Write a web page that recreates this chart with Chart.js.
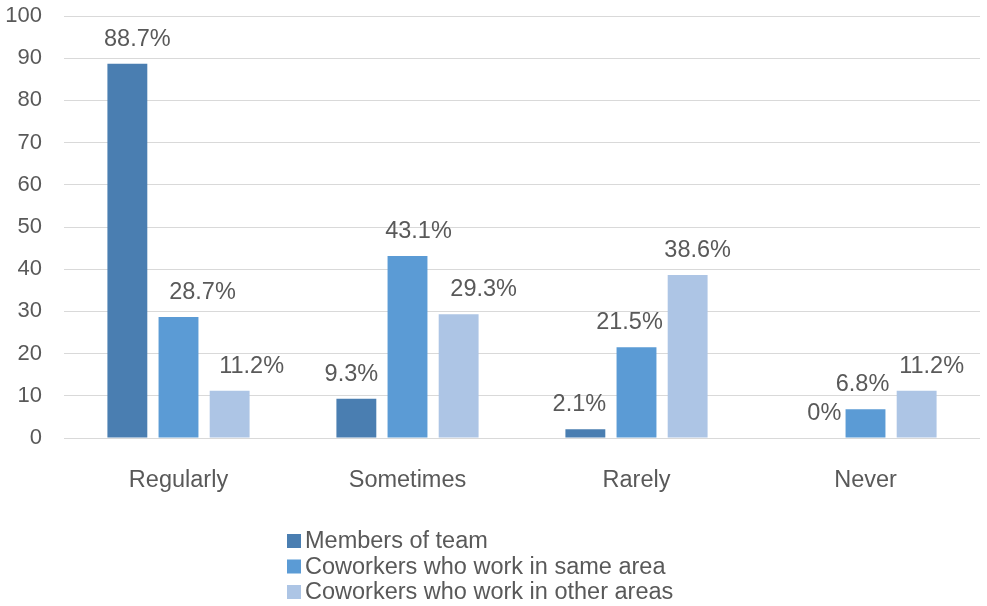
<!DOCTYPE html>
<html>
<head>
<meta charset="utf-8">
<script src="https://cdn.jsdelivr.net/npm/chart.js@4"></script>
<style>
  html, body { margin: 0; padding: 0; background: #fff; }
  #wrap { width: 987px; height: 606px; }
</style>
</head>
<body>
<div id="wrap"><canvas id="chart" width="987" height="606"></canvas></div>
<script>
// data
var categories = ['Regularly', 'Sometimes', 'Rarely', 'Never'];
var seriesNames = ['Members of team', 'Coworkers who work in same area', 'Coworkers who work in other areas'];
var membersOfTeam = [88.7, 9.3, 2.1, 0];
var sameArea = [28.7, 43.1, 21.5, 6.8];
var otherAreas = [11.2, 29.3, 38.6, 11.2];
var yTicks = [0, 10, 20, 30, 40, 50, 60, 70, 80, 90, 100];

var colors = ['#4A7EB1', '#5B9BD5', '#ADC5E5'];
var textColor = '#595959';
var fontFamily = '"Liberation Sans", Arial, sans-serif';

// the value labels in the original were nudged sideways by hand
var labelNudge = [
  [10, -5, -6, 10],
  [24, 11, -7, -3],
  [22, 25, 10, 15]
];

// labels above each bar
var valueLabels = {
  id: 'valueLabels',
  afterDatasetsDraw: function (chart) {
    var ctx = chart.ctx;
    ctx.save();
    ctx.font = '23.5px ' + fontFamily;
    ctx.fillStyle = textColor;
    ctx.textAlign = 'center';
    ctx.textBaseline = 'alphabetic';
    chart.data.datasets.forEach(function (ds, i) {
      chart.getDatasetMeta(i).data.forEach(function (bar, j) {
        ctx.fillText(ds.data[j] + '%', bar.x + labelNudge[i][j], bar.y - 18);
      });
    });
    ctx.restore();
  }
};

// vertical legend under the axis
var stackedLegend = {
  id: 'stackedLegend',
  afterDraw: function (chart) {
    var ctx = chart.ctx;
    ctx.save();
    ctx.font = '23.5px ' + fontFamily;
    ctx.textBaseline = 'middle';
    ctx.textAlign = 'left';
    chart.data.datasets.forEach(function (ds, i) {
      var y = 541 + i * 25.5;
      ctx.fillStyle = ds.backgroundColor;
      ctx.fillRect(287, y - 7, 14, 14);
      ctx.fillStyle = textColor;
      ctx.fillText(ds.label, 305, y + 1);
    });
    ctx.restore();
  }
};

var ctx = document.getElementById('chart');
new Chart(ctx, {
  type: 'bar',
  data: {
    labels: categories,
    datasets: [
      { label: seriesNames[0], data: membersOfTeam, backgroundColor: colors[0] },
      { label: seriesNames[1], data: sameArea, backgroundColor: colors[1] },
      { label: seriesNames[2], data: otherAreas, backgroundColor: colors[2] }
    ]
  },
  options: {
    responsive: false,
    animation: false,
    layout: { padding: { top: 16, right: 7, left: 0, bottom: 0 } },
    datasets: { bar: { categoryPercentage: 0.67, barPercentage: 0.78 } },
    plugins: {
      legend: { display: false },
      tooltip: { enabled: false }
    },
    scales: {
      x: {
        grid: { display: false },
        border: { display: false },
        ticks: { color: textColor, font: { size: 23.5, family: fontFamily }, padding: 20 },
        afterFit: function (scale) {
          scale.height = 168;
          scale.paddingLeft = 0;
          scale.paddingRight = 0;
        }
      },
      y: {
        min: 0,
        max: 100,
        afterBuildTicks: function (scale) {
          scale.ticks = yTicks.map(function (v) { return { value: v }; });
        },
        grid: { color: '#D9D9D9', lineWidth: 1, drawTicks: false },
        border: { display: false },
        ticks: { color: textColor, font: { size: 22, family: fontFamily }, padding: 22 },
        afterFit: function (scale) {
          scale.width = 64;
          scale.paddingTop = 0;
          scale.paddingBottom = 0;
        }
      }
    }
  },
  plugins: [valueLabels, stackedLegend]
});
</script>
</body>
</html>
